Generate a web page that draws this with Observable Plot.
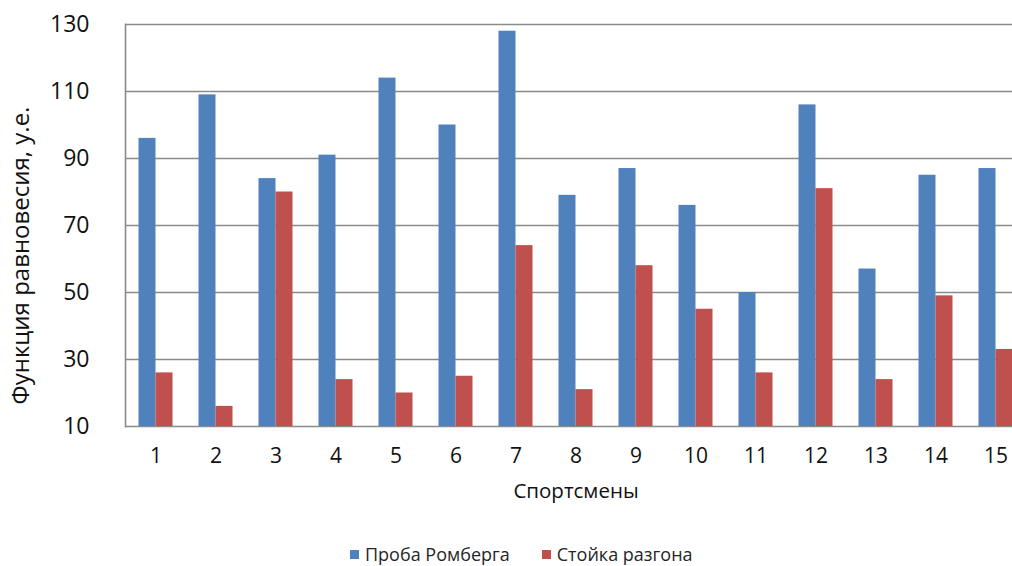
<!DOCTYPE html>
<html>
<head>
<meta charset="utf-8">
<script src="https://cdn.jsdelivr.net/npm/d3@7"></script>
<script src="https://cdn.jsdelivr.net/npm/@observablehq/plot@0.6"></script>
<style>
  body { margin: 0; background: #fff; font-family: "Open Sans", sans-serif; }
  #chart { position: relative; width: 1012px; height: 566px; overflow: hidden; }
  #chart svg { display: block; }
  #legend { position: absolute; left: 350px; top: 542px; display: flex; align-items: center; font-size: 18px; color: #262626; white-space: nowrap; }
  #legend .item { display: flex; align-items: center; margin-right: 32px; }
  #legend .sw { width: 9px; height: 9px; margin-right: 6px; }
</style>
</head>
<body>
<div id="chart"><div id="legend"></div></div>
<script>
// Athletes (x categories)
const athletes = ["1", "2", "3", "4", "5", "6", "7", "8", "9", "10", "11", "12", "13", "14", "15"];
// Balance function, conventional units
const romberg = [96, 109, 84, 91, 114, 100, 128, 79, 87, 76, 50, 106, 57, 85, 87];
const razgon  = [26, 16, 80, 24, 20, 25, 64, 21, 58, 45, 26, 81, 24, 49, 33];
const seriesNames = ["Проба Ромберга", "Стойка разгона"];
const seriesColors = ["#4F81BD", "#C0504D"];
const yTicks = [10, 30, 50, 70, 90, 110, 130];

const rows = (values, s) => values.map((v, i) => ({athlete: athletes[i], series: seriesNames[s], value: v}));
const rombergRows = rows(romberg, 0);
const razgonRows = rows(razgon, 1);

const grid = "#8a8a8a";

const chart = Plot.plot({
  width: 1012,
  height: 530,
  marginLeft: 125,
  marginRight: 0,
  marginTop: 24,
  marginBottom: 104,
  style: {fontFamily: "Open Sans, sans-serif", color: "#111", background: "#fff"},
  // the last category runs past the right edge of the view
  x: {type: "band", domain: athletes, range: [125, 1026], paddingInner: 0.717, paddingOuter: 0.3585, axis: null},
  y: {domain: [10, 130], axis: null},
  color: {domain: seriesNames, range: seriesColors},
  marks: [
    Plot.ruleY(yTicks, {stroke: grid, strokeWidth: 1.6}),
    Plot.frame({anchor: "left", stroke: grid, strokeWidth: 1.6}),
    Plot.barY(rombergRows, {x: "athlete", y1: 10, y2: "value", fill: "series", dx: -8.5}),
    Plot.barY(razgonRows, {x: "athlete", y1: 10, y2: "value", fill: "series", dx: 8.5}),
    Plot.axisY({ticks: yTicks, tickSize: 0, tickPadding: 36, fontSize: 23, label: null}),
    Plot.axisX({tickSize: 0, tickPadding: 22, fontSize: 21, label: null}),
    Plot.text(["Функция равновесия, у.е."], {frameAnchor: "left", textAnchor: "middle", rotate: -90, dx: -104, dy: 30, fontSize: 24, fill: "#111"}),
    Plot.text(["Спортсмены"], {frameAnchor: "bottom", dx: 7, dy: 71, fontSize: 20.5, fill: "#111"})
  ]
});

const container = document.getElementById("chart");
container.insertBefore(chart, container.firstChild);

const legend = document.getElementById("legend");
seriesNames.forEach((name, i) => {
  const item = document.createElement("div");
  item.className = "item";
  const sw = document.createElement("span");
  sw.className = "sw";
  sw.style.background = seriesColors[i];
  const label = document.createElement("span");
  label.textContent = name;
  item.append(sw, label);
  legend.append(item);
});
</script>
</body>
</html>
